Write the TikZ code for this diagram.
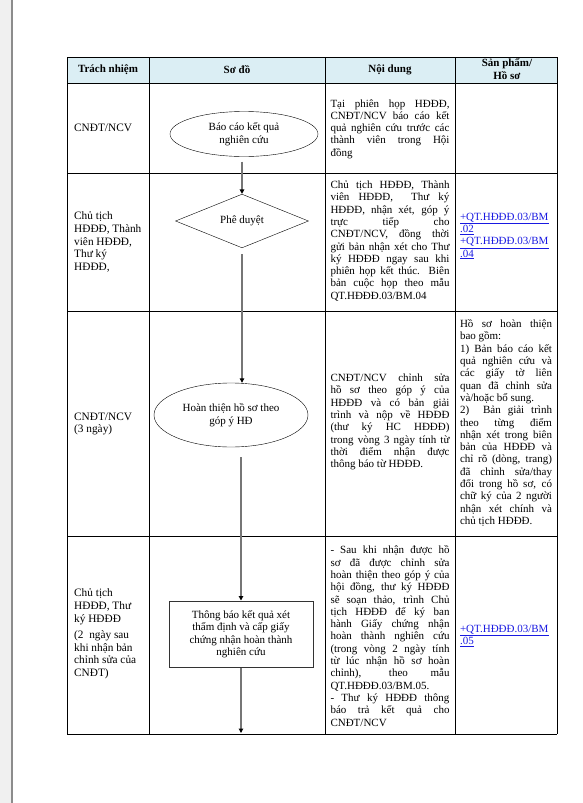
\documentclass[tikz,border=0pt]{standalone}
\usepackage{fontspec}
\setmainfont{Liberation Serif}
\usepackage{xcolor}
\usepackage{tikz}
\usetikzlibrary{shapes.geometric, arrows.meta}

\definecolor{headblue}{RGB}{219,238,244}
\definecolor{linkblue}{RGB}{25,25,225}
\definecolor{flowgray}{RGB}{118,118,118}
\newcommand{\cellfont}{\fontsize{11}{12.3}\selectfont}
\newcommand{\sidefont}{\fontsize{11.3}{12.8}\selectfont}
\newcommand{\flowfont}{\fontsize{11}{12.5}\selectfont}
\newcommand{\headfont}{\fontsize{11}{12.3}\selectfont\bfseries}
\newcommand{\lnk}[1]{\textcolor{linkblue}{\underline{#1}}}
\hyphenpenalty=10000
\tolerance=10000
\hbadness=10000

\begin{document}
\begin{tikzpicture}[x=1pt, y=-1pt,
  grid/.style={draw=black, line width=0.9pt},
  head/.style={font=\headfont, align=center, inner sep=0pt},
  side/.style={anchor=west, align=left, inner sep=0pt, font=\sidefont},
  body/.style={text width=119pt, align=justify, inner sep=0pt, font=\cellfont},
  prod/.style={text width=92pt, align=justify, inner sep=0pt, font=\cellfont},
  term/.style={ellipse, draw, thin, inner sep=0pt, align=center, font=\flowfont,
               minimum width=148pt, minimum height=45pt},
  decide/.style={diamond, draw, thin, inner sep=0pt, font=\flowfont,
                 minimum width=133pt, minimum height=52pt},
  proc/.style={rectangle, draw=black!80, line width=1pt, align=center,
               font=\flowfont, minimum width=144pt, minimum height=66pt},
  arrow/.style={draw=flowgray, line width=1.2pt,
                -{Triangle[length=4.5pt, width=4.5pt, color=black]}}
]
\useasboundingbox (0,0) rectangle (583,803);

% viewer margin
\fill[black!6] (0,0) rectangle (11.5,803);
\draw[black!45, line width=1.2pt] (12,0) -- (12,803);

% table
\fill[headblue] (67,57) rectangle (557,83);
\foreach \y in {57,83,173,311,536,734}
  \draw[grid] (67,\y) -- (557,\y);
\foreach \x in {67,149,325,455,557}
  \draw[grid] (\x,57) -- (\x,734);

% header
\node[head] (hTN) at (108,70) {Trách nhiệm};
\node[head] (hSD) at (237,70) {Sơ đồ};
\node[head] (hND) at (390,70) {Nội dung};
\node[head] (hSP) at (507,69) {Sản phẩm/\\Hồ sơ};

% responsibility column
\node[side] (t1) at (74,128) {CNĐT/NCV};
\node[side] (t2) at (74,242) {Chủ tịch\\HĐĐĐ, Thành\\viên HĐĐĐ,\\Thư ký\\HĐĐĐ,};
\node[side] (t3) at (74,424) {CNĐT/NCV\\(3 ngày)};
\node[side] (t4) at (74,634) {Chủ tịch\\HĐĐĐ, Thư\\ký HĐĐĐ\\[3pt](2~ ngày sau\\khi nhận bản\\chỉnh sửa của\\CNĐT)};

% flow chart
\node[term] (bao) at (244,134) {Báo cáo kết quả\\nghiên cứu};
\node[decide] (duyet) at (242,221) {Phê duyệt};
\node[term, minimum width=154pt, minimum height=64pt] (hoan) at (231,415) {Hoàn thiện hồ sơ theo\\góp ý HĐ};
\node[proc] (tbao) at (241,634) {Thông báo kết quả xét\\thẩm định và cấp giấy\\chứng nhận hoàn thành\\nghiên cứu};
\coordinate (het) at (241,733);

\draw[arrow, shorten <=5pt] (bao.south -| duyet.north) -- (duyet.north);
\draw[arrow, shorten <=6pt] (duyet.south) -- (hoan.north -| duyet.north);
\draw[arrow, shorten <=10pt] (hoan.south -| tbao.north) -- (tbao.north);
\draw[arrow] (tbao.south) -- (het);

% content column
\node[body] (n1) at (390,129) {Tại phiên họp HĐĐĐ,\linebreak CNĐT/NCV báo cáo kết\linebreak quả nghiên cứu trước các\linebreak thành viên trong Hội\linebreak đồng};
\node[body] (n2) at (390,241) {Chủ tịch HĐĐĐ, Thành\linebreak viên HĐĐĐ,~ Thư ký\linebreak HĐĐĐ, nhận xét, góp ý\linebreak trực tiếp cho\linebreak CNĐT/NCV, đồng thời\linebreak gửi bản nhận xét cho Thư\linebreak ký HĐĐĐ ngay sau khi\linebreak phiên họp kết thúc. Biên\linebreak bản cuộc họp theo mẫu\linebreak QT.HĐĐĐ.03/BM.04};
\node[body] (n3) at (390,422) {CNĐT/NCV chỉnh sửa\linebreak hồ sơ theo góp ý của\linebreak HĐĐĐ và có bản giải\linebreak trình và nộp về HĐĐĐ\linebreak (thư ký HC HĐĐĐ)\linebreak trong vòng 3 ngày tính từ\linebreak thời điểm nhận được\linebreak thông báo từ HĐĐĐ.};
\node[body] (n4) at (390,636) {- Sau khi nhận được hồ\linebreak sơ đã được chỉnh sửa\linebreak hoàn thiện theo góp ý của\linebreak hội đồng, thư ký HĐĐĐ\linebreak sẽ soạn thảo, trình Chủ\linebreak tịch HĐĐĐ để ký ban\linebreak hành Giấy chứng nhận\linebreak hoàn thành nghiên cứu\linebreak (trong vòng 2 ngày tính\linebreak từ lúc nhận hồ sơ hoàn\linebreak chỉnh), theo mẫu\linebreak QT.HĐĐĐ.03/BM.05.\newline - Thư ký HĐĐĐ thông\linebreak báo trả kết quả cho\linebreak CNĐT/NCV};

% product column
\node[prod, align=left] (s2) at (506,236) {\lnk{+QT.HĐĐĐ.03/BM}\\\lnk{.02}\\\lnk{+QT.HĐĐĐ.03/BM}\\\lnk{.04}};
\node[prod] (s3) at (506,423) {Hồ sơ hoàn thiện\linebreak bao gồm:\newline 1) Bản báo cáo kết\linebreak quả nghiên cứu và\linebreak các giấy tờ liên\linebreak quan đã chỉnh sửa\linebreak và/hoặc bổ sung.\newline 2)~ Bản giải trình\linebreak theo từng điểm\linebreak nhận xét trong biên\linebreak bản của HĐĐĐ và\linebreak chỉ rõ (dòng, trang)\linebreak đã chỉnh sửa/thay\linebreak đổi trong hồ sơ, có\linebreak chữ ký của 2 người\linebreak nhận xét chính và\linebreak chủ tịch HĐĐĐ.};
\node[prod, align=left] (s4) at (506,636) {\lnk{+QT.HĐĐĐ.03/BM}\\\lnk{.05}};
\end{tikzpicture}
\end{document}
